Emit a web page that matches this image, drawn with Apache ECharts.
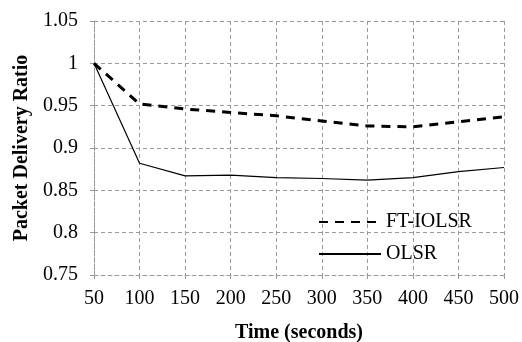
<!DOCTYPE html>
<html><head><meta charset="utf-8">
<script src="https://cdn.jsdelivr.net/npm/echarts@6/dist/echarts.min.js"></script>
<style>html,body{margin:0;padding:0;background:#fff}#c{width:522px;height:342px}</style>
</head><body><div id="c"></div>
<script>
const times = [50, 100, 150, 200, 250, 300, 350, 400, 450, 500];
const ftiolsr = [1.0, 0.952, 0.946, 0.942, 0.938, 0.932, 0.926, 0.925, 0.931, 0.937];
const olsr = [1.0, 0.882, 0.867, 0.868, 0.865, 0.864, 0.862, 0.865, 0.872, 0.877];
const yTicks = [0.75, 0.8, 0.85, 0.9, 0.95, 1, 1.05];

const font = 'Liberation Serif, Times New Roman, serif';
const gridLine = {show: true, lineStyle: {color: '#9a9a9a', type: [4, 3], width: 1}};
const chart = echarts.init(document.getElementById('c'));
chart.setOption({
  animation: false,
  grid: {left: 94, right: 18, top: 21, bottom: 67, containLabel: false, outerBoundsMode: 'none'},
  xAxis: {
    type: 'value', min: 50, max: 500, interval: 50,
    name: 'Time (seconds)', nameLocation: 'middle', nameGap: 48,
    nameTextStyle: {fontFamily: font, fontWeight: 'bold', fontSize: 20, color: '#000'},
    axisLine: {show: true, lineStyle: {color: '#9a9a9a', type: [4, 3]}},
    axisTick: {show: true, length: 4, lineStyle: {color: '#9a9a9a'}},
    axisLabel: {fontFamily: font, fontSize: 20, color: '#000', margin: 14},
    splitLine: gridLine
  },
  yAxis: {
    type: 'value', min: 0.75, max: 1.05, interval: 0.05,
    name: 'Packet Delivery Ratio', nameLocation: 'middle', nameGap: 60,
    nameTextStyle: {fontFamily: font, fontWeight: 'bold', fontSize: 20, color: '#000'},
    axisLine: {show: true, lineStyle: {color: '#9a9a9a', type: [4, 3]}},
    axisTick: {show: true, length: 4, lineStyle: {color: '#9a9a9a'}},
    axisLabel: {fontFamily: font, fontSize: 20, color: '#000', margin: 16,
      formatter: v => { const t = yTicks.find(x => Math.abs(x - v) < 1e-9); return String(t !== undefined ? t : v); }},
    splitLine: gridLine
  },
  legend: {
    orient: 'vertical', left: 313, top: 207, itemWidth: 62, itemHeight: 14, itemGap: 12,
    textStyle: {fontFamily: font, fontSize: 20, color: '#000'},
    itemStyle: {opacity: 0},
    data: ['FT-IOLSR', 'OLSR']
  },
  series: [
    {name: 'FT-IOLSR', type: 'line', symbol: 'none', data: times.map((t, i) => [t, ftiolsr[i]]),
     lineStyle: {color: '#000', width: 3, type: [9, 7]}, itemStyle: {color: '#000'}},
    {name: 'OLSR', type: 'line', symbol: 'none', data: times.map((t, i) => [t, olsr[i]]),
     lineStyle: {color: '#000', width: 1.2, type: 'solid'}, itemStyle: {color: '#000'}}
  ]
});
</script></body></html>
